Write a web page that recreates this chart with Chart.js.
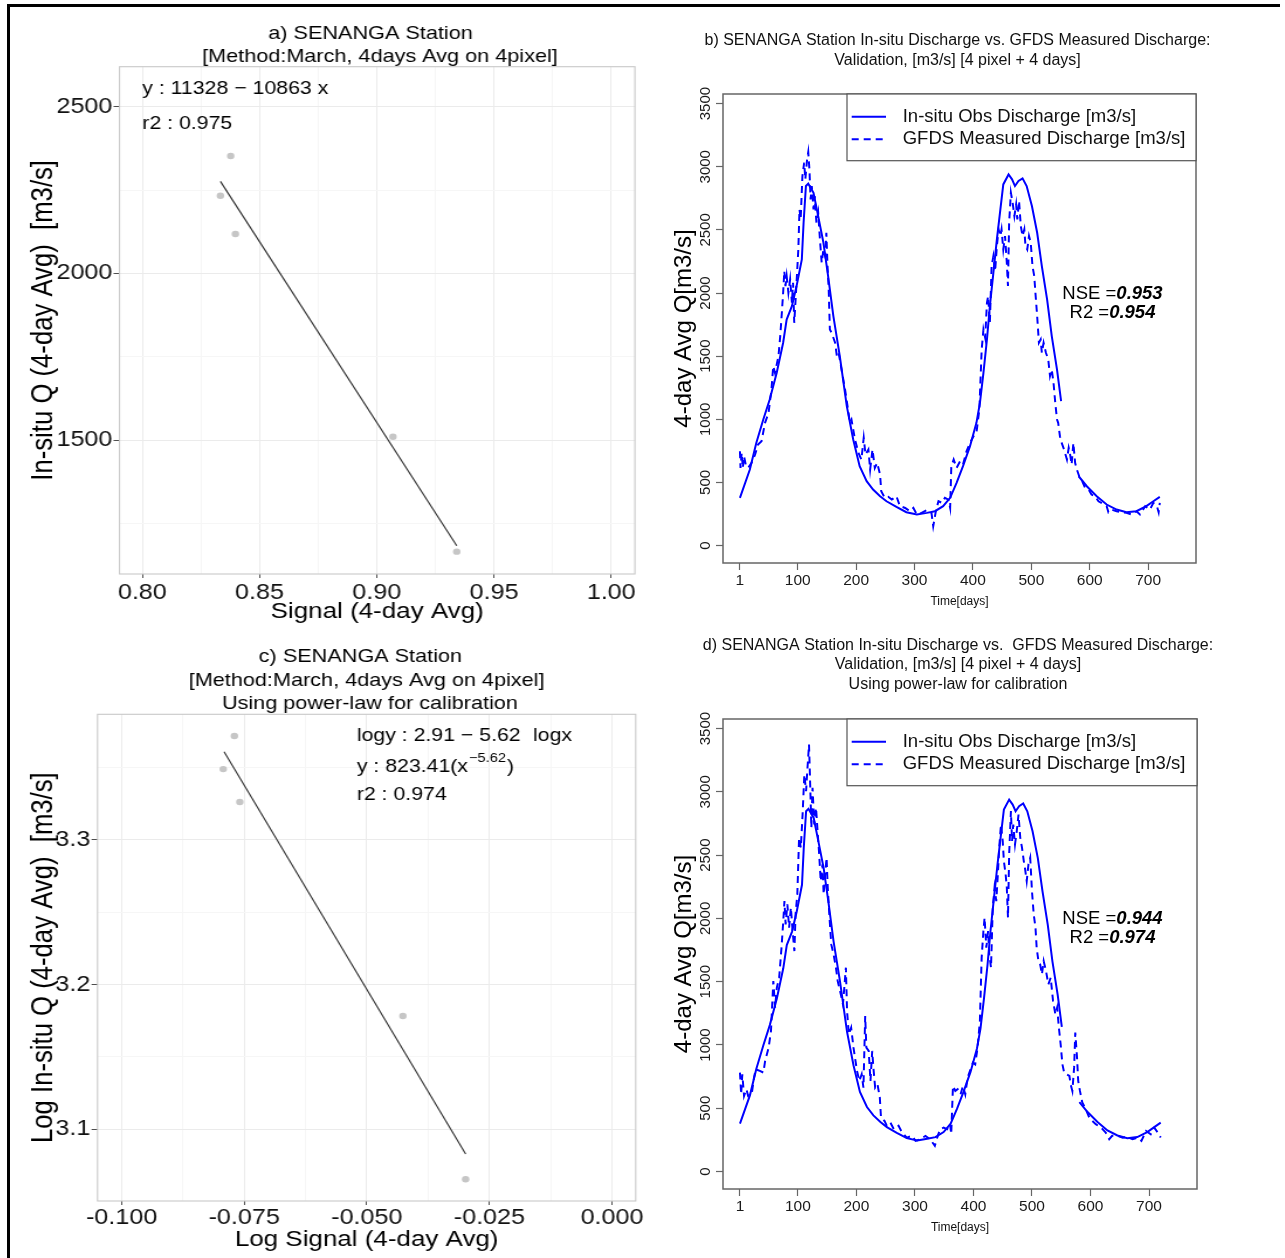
<!DOCTYPE html>
<html>
<head>
<meta charset="utf-8">
<script src="https://cdn.jsdelivr.net/npm/chart.js@4.4.0/dist/chart.umd.min.js"></script>
<style>
  body { margin: 0; background: #fff; }
  #page { position: relative; width: 1285px; height: 1258px; overflow: hidden; background: #fff; }
  canvas { position: absolute; }
  .gg { transform: scaleX(1.17); transform-origin: 0 0; }
  #frame { position: absolute; left: 7px; top: 4px; width: 1273px; height: 1260px;
           border-top: 3px solid #000; border-left: 3px solid #000; box-sizing: border-box; }
</style>
</head>
<body>
<div id="page">
  <canvas id="pa" class="gg" width="543" height="622" style="left:10px;top:8px"></canvas>
  <canvas id="pb" width="635" height="622" style="left:650px;top:8px"></canvas>
  <canvas id="pc" class="gg" width="543" height="628" style="left:10px;top:630px"></canvas>
  <canvas id="pd" width="635" height="628" style="left:650px;top:630px"></canvas>
  <div id="frame"></div>
</div>
<script>
// ---- panel a: signal vs in-situ Q (linear fit)
const aSignal = [0.8333, 0.8377, 0.8397, 0.9069, 0.9341];
const aQ = [2233, 2352, 2118, 1510, 1165];
const aFitX = [0.8333, 0.9341];
const aFitY = [2276, 1183];
const aXTicks = [0.80, 0.85, 0.90, 0.95, 1.00];
const aXLabels = ['0.80', '0.85', '0.90', '0.95', '1.00'];
const aXMinor = [0.825, 0.875, 0.925, 0.975];
const aYTicks = [1500, 2000, 2500];
const aYLabels = ['1500', '2000', '2500'];
const aYMinor = [1250, 1750, 2250];

// ---- panel c: log signal vs log Q (power law)
const cLogSignal = [-0.07928, -0.07700, -0.07589, -0.04264, -0.02985];
const cLogQ = [3.3490, 3.3719, 3.3263, 3.1783, 3.0654];
const cFitX = [-0.0791, -0.02985];
const cFitY = [3.3610, 3.0829];
const cXTicks = [-0.100, -0.075, -0.050, -0.025, 0.000];
const cXLabels = ['-0.100', '-0.075', '-0.050', '-0.025', '0.000'];
const cXMinor = [-0.0875, -0.0625, -0.0375, -0.0125];
const cYTicks = [3.1, 3.2, 3.3];
const cYLabels = ['3.1', '3.2', '3.3'];
const cYMinor = [3.15, 3.25, 3.35];

// ---- panels b / d: time series
const dayTicks = [1, 100, 200, 300, 400, 500, 600, 700];
const dayLabels = ['1', '100', '200', '300', '400', '500', '600', '700'];
const qTicks = [0, 500, 1000, 1500, 2000, 2500, 3000, 3500];
const qLabels = ['0', '500', '1000', '1500', '2000', '2500', '3000', '3500'];

const insituDays = [1, 18, 29, 41, 52, 64, 75, 81, 90, 98, 107, 110, 114, 118, 127, 135, 144, 152, 161, 172,
  184, 195, 206, 218, 229, 241, 252, 269, 286, 304, 321, 335, 349, 361, 372, 383, 395, 406, 412, 418,
  424, 429, 435, 441, 447, 452, 461, 467, 472, 478, 485, 492, 501, 510, 518, 527, 535, 544, 551, 565,
  581, 595, 612, 629, 646, 663, 680, 697, 709, 720];
const insituQ = [378, 602, 813, 998, 1157, 1368, 1606, 1790, 1896, 2055, 2266, 2557, 2847, 2866, 2794, 2609, 2398, 2134, 1817, 1500,
  1104, 840, 629, 510, 444, 391, 351, 306, 264, 246, 259, 272, 312, 378, 497, 629, 787, 972, 1130, 1368,
  1632, 1896, 2160, 2424, 2662, 2860, 2939, 2900, 2847, 2887, 2908, 2847, 2689, 2477, 2213, 1949, 1659, 1394, 1143, null,
  549, 470, 391, 325, 285, 264, 272, 312, 351, 386];

const gfdsDaysB = [1, 2, 4, 6, 8, 11, 15, 21, 27, 32, 38, 44, 50, 55, 58, 61, 67, 70, 72, 75,
  77, 79, 81, 84, 87, 90, 92, 94, 97, 101, 103, 105, 108, 111, 113, 116, 118, 120, 122, 124,
  127, 129, 132, 135, 138, 141, 144, 147, 149, 151, 153, 155, 158, 164, 167, 170, 175, 181, 187, 189,
  192, 198, 204, 209, 213, 216, 221, 224, 228, 232, 236, 241, 243, 249, 255, 261, 269, 275, 284, 292,
  298, 304, 312, 321, 329, 332, 337, 341, 347, 352, 358, 361, 363, 367, 372, 378, 383, 389, 395, 401,
  406, 411, 415, 418, 421, 424, 426, 429, 432, 435, 438, 441, 444, 447, 449, 452, 455, 458, 460, 462,
  465, 468, 471, 474, 476, 479, 482, 485, 488, 490, 493, 496, 499, 502, 505, 507, 510, 513, 516, 518,
  521, 525, 529, 532, 535, 538, 541, 544, 546, 549, 552, 556, 561, 564, 566, 569, 572, 575, 578, 582,
  586, 592, 598, 603, 609, 615, 620, 629, 632, 637, 646, 655, 663, 672, 680, 686, 695, 703, 709, 715,
  718, 720];
const gfdsQB = [747, 615, 734, 615, 708, 640, 615, 655, 721, 800, 827, 972, 1051, 1236, 1421, 1368, 1500, 1659, 1790, 2002,
  2174, 2055, 2134, 2002, 2108, 1923, 2081, 1764, 2002, 2345, 2662, 2583, 2926, 3032, 2900, 3058, 3116, 2979, 2741, 2847,
  2662, 2768, 2557, 2636, 2424, 2240, 2345, 2292, 2477, 2213, 2028, 1711, 1685, 1606, 1500, 1527, 1394, 1236, 1051, 972,
  998, 840, 734, 681, 853, 721, 761, 602, 761, 615, 655, 562, 430, 378, 386, 364, 391, 312, 298, 272,
  298, 246, 259, 280, 259, 153, 285, 351, 338, 378, 364, 298, 629, 681, 615, 668, 642, 747, 813, 866,
  893, 1078, 1553, 1711, 1645, 1923, 1975, 1764, 2213, 2292, 2174, 2372, 2504, 2451, 2504, 2345, 2451, 2240, 2055, 2557,
  2794, 2715, 2609, 2702, 2583, 2728, 2530, 2451, 2504, 2372, 2345, 2451, 2398, 2213, 2134, 2002, 1817, 1606, 1632, 1527,
  1606, 1527, 1474, 1342, 1394, 1289, 1130, 998, 972, 866, 813, 761, 681, 774, 734, 642, 813, 655, 602, 549,
  523, 457, 444, 404, 391, 351, 338, 312, 264, 285, 272, 264, 259, 246, 272, 246, 312, 285, 338, 312,
  264, 338];

const gfdsDaysD = [1, 3, 5, 8, 12, 15, 21, 25, 28, 35, 41, 44, 50, 54, 58, 61, 64, 68, 72, 75,
  77, 79, 82, 85, 88, 91, 94, 96, 99, 102, 105, 108, 111, 114, 116, 119, 121, 123, 125, 128,
  131, 134, 136, 139, 142, 144, 147, 149, 151, 154, 157, 161, 165, 168, 172, 177, 182, 184, 187, 191,
  195, 201, 205, 209, 212, 215, 217, 221, 224, 227, 229, 232, 236, 240, 242, 248, 252, 258, 264, 272,
  278, 286, 295, 301, 309, 318, 326, 334, 339, 343, 349, 355, 360, 362, 365, 369, 373, 378, 382, 386,
  390, 395, 399, 403, 407, 411, 414, 417, 419, 422, 425, 427, 430, 433, 436, 439, 442, 444, 447, 450,
  452, 455, 457, 459, 461, 464, 466, 468, 471, 474, 477, 480, 483, 486, 488, 491, 494, 497, 500, 503,
  506, 508, 511, 514, 517, 520, 524, 528, 532, 536, 540, 543, 546, 549, 552, 555, 559, 564, 566, 569,
  572, 574, 577, 579, 582, 586, 592, 598, 603, 609, 618, 626, 632, 637, 646, 655, 663, 672, 680, 687,
  695, 703, 709, 715, 720];
const gfdsQD = [782, 610, 768, 597, 650, 597, 610, 742, 808, 795, 782, 874, 979, 1111, 1506, 1295, 1453, 1532, 1769, 1979,
  2137, 1953, 2111, 1927, 2085, 1900, 1742, 2032, 2190, 2637, 2558, 2821, 3137, 3006, 3164, 3374, 3058, 2716, 3032, 2742,
  2874, 2664, 2532, 2295, 2427, 2190, 2374, 2479, 2243, 2006, 1795, 1716, 1611, 1506, 1427, 1321, 1611, 1269, 1084, 1137,
  979, 795, 716, 768, 663, 1229, 979, 953, 716, 953, 821, 663, 690, 584, 426, 400, 361, 387, 334, 361,
  308, 268, 282, 242, 255, 282, 255, 203, 282, 334, 347, 334, 374, 295, 676, 637, 650, 610, 676, 610,
  742, 808, 861, 847, 979, 1190, 1690, 1900, 2006, 1769, 1900, 1716, 1611, 2085, 2243, 2137, 2374, 2558, 2742, 2611,
  2453, 2348, 2243, 2006, 2506, 2848, 2611, 2742, 2585, 2690, 2821, 2637, 2558, 2453, 2400, 2295, 2427, 2479, 2216, 2032,
  1927, 1769, 1663, 1637, 1558, 1663, 1584, 1479, 1532, 1348, 1242, 1295, 1137, 1005, 847, 782, 768, 755, 690, 637,
  821, 1098, 900, 716, 637, 545, 492, 426, 400, 374, 347, 308, 255, 282, 282, 268, 274, 255, 268, 242,
  321, 295, 347, 308, 268];

const FF = '"Liberation Sans", Arial, Helvetica, sans-serif';
Chart.defaults.font.family = FF;
Chart.defaults.animation = false;

const pts = (xs, ys) => xs.map((x, i) => ({ x: x, y: ys[i] }));
const fitW = w => s => { s.width = w; };
const fitH = h => s => { s.height = h; };
const F = (s, extra) => (extra ? extra + ' ' : '') + s + 'px ' + FF;

function setTicks(values, labels, minors) {
  return function (scale) {
    const t = values.map((v, i) => ({ value: v, lab: labels[i] }));
    (minors || []).forEach(v => t.push({ value: v, lab: '', minor: true }));
    t.sort((p, q) => p.value - q.value);
    scale.ticks = t;
  };
}

function txt(ctx, s, x, y, font, align, base, color, rot) {
  ctx.save();
  ctx.font = font;
  ctx.fillStyle = color || '#000';
  ctx.textAlign = align || 'center';
  ctx.textBaseline = base || 'middle';
  ctx.translate(x, y);
  if (rot) ctx.rotate(rot);
  ctx.fillText(s, 0, 0);
  ctx.restore();
}

// ggplot-like scatter panels (canvas is stretched 1.17x horizontally by css)
function ggScale(min, max, ticks, labels, minors, fit, tl, pad) {
  return {
    type: 'linear', min: min, max: max,
    afterBuildTicks: setTicks(ticks, labels, minors),
    afterFit: fit,
    border: { display: false },
    grid: {
      color: c => (c.tick && c.tick.minor) ? '#f6f6f6' : '#ebebeb',
      lineWidth: 1,
      tickLength: tl,
      tickColor: c => (c.tick && c.tick.minor) ? 'rgba(0,0,0,0)' : '#4d4d4d',
      tickWidth: 1
    },
    ticks: {
      autoSkip: false, maxRotation: 0, minRotation: 0, padding: pad,
      color: '#111', font: { size: 21.5 },
      callback: (v, i, t) => t[i].lab
    }
  };
}

function ggChart(id, pad, xs, ys, fx, fy, xScale, yScale, deco) {
  return new Chart(document.getElementById(id), {
    type: 'scatter',
    data: {
      datasets: [
        { data: pts(fx, fy), showLine: true, borderColor: '#2e2e2e', borderWidth: 1.1, pointRadius: 0 },
        { data: pts(xs, ys), pointRadius: 3.2, backgroundColor: '#c6c6c6', borderWidth: 0 }
      ]
    },
    options: {
      responsive: false, events: [],
      layout: { padding: pad },
      plugins: { legend: { display: false }, tooltip: { enabled: false } },
      scales: { x: xScale, y: yScale }
    },
    plugins: [{ id: 'deco', afterDraw: deco }]
  });
}

function ggBox(ctx, ca) {
  ctx.save();
  ctx.strokeStyle = '#c8c8c8'; ctx.lineWidth = 1.1;
  ctx.strokeRect(ca.left, ca.top, ca.right - ca.left, ca.bottom - ca.top);
  ctx.restore();
}

ggChart('pa', { top: 58.7, right: 8.9, left: 0, bottom: 0 }, aSignal, aQ, aFitX, aFitY,
  ggScale(0.79027, 1.0101, aXTicks, aXLabels, aXMinor, fitH(56), 4, 2),
  ggScale(1098, 2620, aYTicks, aYLabels, aYMinor, fitW(93.6), 5.1, 1),
  function (chart) {
    const ctx = chart.ctx, ca = chart.chartArea;
    ggBox(ctx, ca);
    txt(ctx, 'a) SENANGA Station', 308.1, 25.5, F(18.5));
    txt(ctx, '[Method:March, 4days Avg on 4pixel]', 316.2, 48.5, F(18.5));
    txt(ctx, 'y : 11328 \u2212 10863 x', ca.left + 19.5, 81.3, F(18.2), 'left');
    txt(ctx, 'r2 : 0.975', ca.left + 19.5, 116, F(18.2), 'left');
    txt(ctx, 'Signal (4-day Avg)', (ca.left + ca.right) / 2, ca.bottom + 37.7, F(22.2));
    txt(ctx, 'In-situ Q (4-day Avg)  [m3/s]', 29, (ca.top + ca.bottom) / 2, F(25.7), 'center', 'middle', '#000', -Math.PI / 2);
  });

ggChart('pc', { top: 84.3, right: 8.2, left: 0, bottom: 0 }, cLogSignal, cLogQ, cFitX, cFitY,
  ggScale(-0.10491, 0.00483, cXTicks, cXLabels, cXMinor, fitH(57), 4, 0.5),
  ggScale(3.0504, 3.3869, cYTicks, cYLabels, cYMinor, fitW(74.8), 5.1, 1),
  function (chart) {
    const ctx = chart.ctx, ca = chart.chartArea;
    ggBox(ctx, ca);
    txt(ctx, 'c) SENANGA Station', 299.5, 27.3, F(18.5));
    txt(ctx, '[Method:March, 4days Avg on 4pixel]', 304.8, 50.6, F(18.5));
    txt(ctx, 'Using power-law for calibration', 307.6, 74, F(18.5));
    const ax = ca.left + 221.6;
    txt(ctx, 'logy : 2.91 \u2212 5.62', ax, 106, F(18.2), 'left');
    txt(ctx, 'logx', 447, 106, F(18.2), 'left');
    ctx.save();
    ctx.font = F(18.2);
    const w1 = ctx.measureText('y : 823.41(x').width;
    ctx.font = F(12.5);
    const w2 = ctx.measureText('\u22125.62').width;
    ctx.restore();
    txt(ctx, 'y : 823.41(x', ax, 136.7, F(18.2), 'left');
    txt(ctx, '\u22125.62', ax + w1 + 0.8, 128.3, F(12.5), 'left');
    txt(ctx, ')', ax + w1 + w2 + 1.6, 136.7, F(18.2), 'left');
    txt(ctx, 'r2 : 0.974', ax, 165, F(18.2), 'left');
    txt(ctx, 'Log Signal (4-day Avg)', (ca.left + ca.right) / 2, ca.bottom + 39, F(22.2));
    txt(ctx, 'Log In-situ Q (4-day Avg)  [m3/s]', 29, (ca.top + ca.bottom) / 2, F(25.7), 'center', 'middle', '#000', -Math.PI / 2);
  });

// R base-graphics-like time series panels
function rChart(id, pad, xH, gfdsDays, gfdsQ, titles, titleDy, nse, r2) {
  return new Chart(document.getElementById(id), {
    type: 'line',
    data: {
      datasets: [
        { data: pts(gfdsDays, gfdsQ), borderColor: '#0000ff', borderWidth: 2, borderDash: [7, 5],
          pointRadius: 0, fill: false, tension: 0 },
        { data: pts(insituDays, insituQ), borderColor: '#0000ff', borderWidth: 2,
          pointRadius: 0, fill: false, tension: 0, spanGaps: false }
      ]
    },
    options: {
      responsive: false, events: [],
      layout: { padding: pad },
      plugins: { legend: { display: false }, tooltip: { enabled: false } },
      scales: {
        x: {
          type: 'linear', min: -28, max: 782,
          afterBuildTicks: setTicks(dayTicks, dayLabels),
          afterFit: fitH(xH),
          border: { display: false },
          grid: { drawOnChartArea: false, tickLength: 7, tickColor: '#666', tickWidth: 1.2 },
          ticks: { autoSkip: false, maxRotation: 0, minRotation: 0, padding: 1, color: '#1a1a1a',
                   font: { size: 15.5 }, callback: (v, i, t) => t[i].lab }
        },
        y: {
          type: 'linear', min: -138, max: 3576,
          afterBuildTicks: setTicks(qTicks, qLabels),
          afterFit: fitW(73),
          border: { display: false },
          grid: { drawOnChartArea: false, tickLength: 7, tickColor: '#666', tickWidth: 1.2 },
          ticks: { display: false }
        }
      }
    },
    plugins: [{
      id: 'deco',
      afterDraw: function (chart) {
        const ctx = chart.ctx, ca = chart.chartArea;
        const cx = (ca.left + ca.right) / 2;
        ctx.save();
        ctx.strokeStyle = '#666'; ctx.lineWidth = 1.5;
        ctx.strokeRect(ca.left, ca.top, ca.right - ca.left, ca.bottom - ca.top);
        // legend
        const lx = ca.left + 124, lb = ca.top + 66.7;
        ctx.fillStyle = '#fff';
        ctx.fillRect(lx, ca.top, ca.right - lx, lb - ca.top);
        ctx.strokeStyle = '#555'; ctx.lineWidth = 1.2;
        ctx.strokeRect(lx, ca.top, ca.right - lx, lb - ca.top);
        ctx.strokeStyle = '#0000ff'; ctx.lineWidth = 2;
        ctx.beginPath(); ctx.moveTo(ca.left + 128.7, ca.top + 22.7); ctx.lineTo(ca.left + 163, ca.top + 22.7); ctx.stroke();
        ctx.setLineDash([7, 5]);
        ctx.beginPath(); ctx.moveTo(ca.left + 128.7, ca.top + 45.3); ctx.lineTo(ca.left + 163, ca.top + 45.3); ctx.stroke();
        ctx.restore();
        txt(ctx, 'In-situ Obs Discharge [m3/s]', ca.left + 179.7, ca.top + 22.7, F(18.5), 'left', 'middle', '#111');
        txt(ctx, 'GFDS Measured Discharge [m3/s]', ca.left + 179.7, ca.top + 45.3, F(18.5), 'left', 'middle', '#111');
        // y tick labels (rotated, R style)
        const ys = chart.scales.y;
        qTicks.forEach((v, i) => {
          txt(ctx, qLabels[i], ca.left - 13, ys.getPixelForValue(v), F(15), 'center', 'alphabetic', '#1a1a1a', -Math.PI / 2);
        });
        // titles
        titles.forEach((t, i) => txt(ctx, t, cx - 2, ca.top + titleDy[i], F(16), 'center', 'middle', '#111'));
        txt(ctx, 'Time[days]', cx, ca.bottom + 38.7, F(12), 'center', 'middle', '#111');
        txt(ctx, '4-day Avg Q[m3/s]', ca.left - 39, (ca.top + ca.bottom) / 2, F(24), 'center', 'middle', '#000', -Math.PI / 2);
        // NSE / R2
        [['NSE =', nse, 199.5], ['R2 =', r2, 219]].forEach(r => {
          ctx.save();
          ctx.font = F(18.5);
          const w1 = ctx.measureText(r[0]).width;
          ctx.font = F(18.5, 'italic bold');
          const w2 = ctx.measureText(r[1]).width;
          ctx.restore();
          const x0 = ca.left + 389.5 - (w1 + w2) / 2;
          txt(ctx, r[0], x0, ca.top + r[2], F(18.5), 'left', 'middle', '#000');
          txt(ctx, r[1], x0 + w1, ca.top + r[2], F(18.5, 'italic bold'), 'left', 'middle', '#000');
        });
      }
    }]
  });
}

rChart('pb', { top: 86, right: 89, left: 0, bottom: 0 }, 67, gfdsDaysB, gfdsQB,
  ['b) SENANGA Station In-situ Discharge vs. GFDS Measured Discharge:',
   'Validation, [m3/s] [4 pixel + 4 days]'],
  [-53.3, -33.3], '0.953', '0.954');

rChart('pd', { top: 89, right: 88, left: 0, bottom: 0 }, 69, gfdsDaysD, gfdsQD,
  ['d) SENANGA Station In-situ Discharge vs.  GFDS Measured Discharge:',
   'Validation, [m3/s] [4 pixel + 4 days]',
   'Using power-law for calibration'],
  [-73.3, -54, -34], '0.944', '0.974');
</script>
</body>
</html>
